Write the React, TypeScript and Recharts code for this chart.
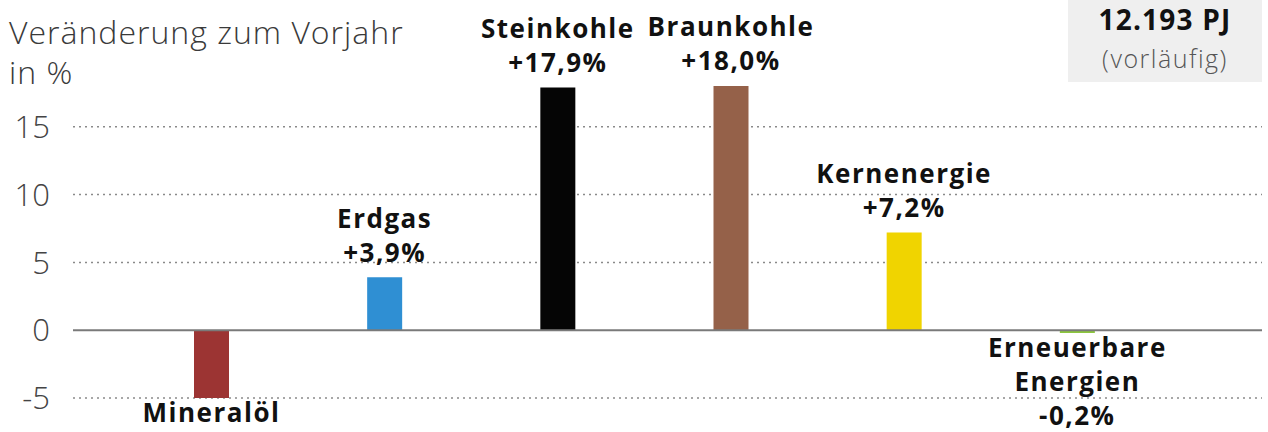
import { Bar, BarChart, CartesianGrid, Cell, LabelList, ReferenceLine, XAxis, YAxis } from "recharts";

const categories = ["Mineralöl", "Erdgas", "Steinkohle", "Braunkohle", "Kernenergie", "Erneuerbare Energien"];
const changes = [-5.0, 3.9, 17.9, 18.0, 7.2, -0.2];
const colors = ["#9c3433", "#2f8fd3", "#050505", "#956149", "#f0d400", "#8cc63f"];
const yTicks = [-5, 0, 5, 10, 15];
const gridValues = [-5, 5, 10, 15];

const font = "'Open Sans', Lato, sans-serif";

const data = categories.map((name, i) => ({ name, value: changes[i] }));

function fmt(v: number) {
  const s = Math.abs(v).toFixed(1).replace(".", ",");
  return (v >= 0 ? "+" : "-") + s + "%";
}

function BarLabel(props: any) {
  const { x, y, width, height, index } = props;
  const v = changes[index];
  const words = categories[index].split(" ");
  const lines = [...words, fmt(v)];
  const cx = x + width / 2;
  const top = Math.min(y, y + height);
  const bottom = Math.max(y, y + height);
  const step = 34;
  return (
    <g>
      {lines.map((t, i) => {
        const cy = v >= 0 ? top - 25 - (lines.length - 1 - i) * step : bottom + 15 + i * step;
        if (cy > 425) return null;
        return (
          <text key={i} x={cx} y={cy} dy="0.36em" textAnchor="middle" fontFamily={font} fontWeight={700} fontSize={26} letterSpacing={1.5} fill="#111">
            {t}
          </text>
        );
      })}
    </g>
  );
}

function YTick(props: any) {
  const { y, payload } = props;
  return (
    <text x={50} y={y} dy="0.36em" textAnchor="end" fontFamily={font} fontWeight={300} fontSize={31} fill="#444">
      {payload.value}
    </text>
  );
}

export default function App() {
  return (
    <div style={{ position: "absolute", left: 0, top: 0, width: 1268, height: 432, background: "#fff", overflow: "hidden" }}>
      <div
        style={{
          position: "absolute",
          left: 9,
          top: 12,
          fontFamily: font,
          fontWeight: 300,
          fontSize: 32,
          lineHeight: "40px",
          letterSpacing: 1,
          color: "#3a3a3a",
          whiteSpace: "nowrap",
        }}
      >
        Veränderung zum Vorjahr
        <br />
        in %
      </div>
      <div
        style={{
          position: "absolute",
          left: 1068,
          top: 0,
          width: 194,
          height: 82,
          background: "#efefef",
          fontFamily: font,
          textAlign: "center",
        }}
      >
        <div style={{ fontWeight: 700, fontSize: 28, lineHeight: "32px", letterSpacing: 1.2, color: "#111", marginTop: 3 }}>12.193 PJ</div>
        <div style={{ fontWeight: 300, fontSize: 25, lineHeight: "30px", letterSpacing: 1.5, color: "#555", marginTop: 8 }}>(vorläufig)</div>
      </div>
      <BarChart width={1268} height={432} data={data} margin={{ top: 59, right: 6, bottom: 34, left: 0 }}>
        <CartesianGrid vertical={false} horizontalValues={gridValues} stroke="#8a8a8a" strokeDasharray="2 4" strokeWidth={1.5} />
        <XAxis dataKey="name" hide padding={{ left: 52, right: 98 }} />
        <YAxis
          domain={[-5, 20]}
          ticks={yTicks}
          width={73}
          axisLine={false}
          tickLine={false}
          tick={<YTick />}
          allowDataOverflow
        />
        <ReferenceLine y={0} stroke="#7a7a7a" strokeWidth={2} />
        <Bar dataKey="value" barSize={35} isAnimationActive={false}>
          {data.map((d, i) => (
            <Cell key={d.name} fill={colors[i]} />
          ))}
          <LabelList dataKey="value" content={<BarLabel />} />
        </Bar>
      </BarChart>
    </div>
  );
}
